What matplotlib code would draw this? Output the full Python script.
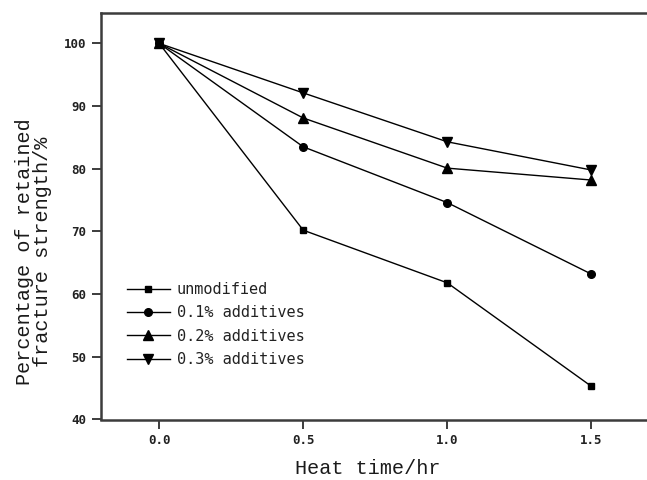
"""Retained fracture strength vs heat time for different additive levels."""

import matplotlib
matplotlib.use("Agg")
import matplotlib.pyplot as plt

heat_time = [0.0, 0.5, 1.0, 1.5]
unmodified = [100.0, 70.2, 61.8, 45.3]
additive_01 = [100.0, 83.5, 74.6, 63.2]
additive_02 = [100.0, 88.1, 80.1, 78.2]
additive_03 = [100.0, 92.1, 84.3, 79.8]
series_labels = ["unmodified", "0.1% additives", "0.2% additives", "0.3% additives"]
x_ticks = [0.0, 0.5, 1.0, 1.5]
y_ticks = [40, 50, 60, 70, 80, 90, 100]

MARKERS = [("s", 4.0), ("o", 5.5), ("^", 6.5), ("v", 6.5)]
MONO = "DejaVu Sans Mono"
SERIF_MONO = "Liberation Mono"
SPINE = "#3c3c3c"

fig = plt.figure(figsize=(6.47, 4.80), dpi=100)
ax = fig.add_axes([101 / 647, 1 - 419.5 / 480, 1.0 - 101 / 647 + 0.003,
                   (419.5 - 13.3) / 480])

for values, label, (m, ms) in zip(
    [unmodified, additive_01, additive_02, additive_03], series_labels, MARKERS
):
    ax.plot(heat_time, values, color="black", lw=1.0, marker=m, ms=ms,
            mfc="black", mec="black", label=label)

ax.set_xlim(-0.202, 1.70)
ax.set_ylim(40, 104.8)
ax.set_xticks(x_ticks)
ax.set_xticklabels([f"{v:.1f}" for v in x_ticks])
ax.set_yticks(y_ticks)
ax.set_yticklabels([str(v) for v in y_ticks])

for side in ("left", "bottom", "top", "right"):
    ax.spines[side].set_linewidth(1.8)
    ax.spines[side].set_color(SPINE)

ax.tick_params(direction="out", length=6.5, width=1.4, color=SPINE, pad=4,
               labelsize=9)
for lbl in ax.get_xticklabels() + ax.get_yticklabels():
    lbl.set_family(MONO)
    lbl.set_fontweight("bold")
    lbl.set_color("#222222")

leg = ax.legend(
    loc="upper left", bbox_to_anchor=(26 / 546, (419.5 - 282) / 406.2),
    frameon=False, handlelength=2.8, handletextpad=0.45, labelspacing=0.55,
    borderaxespad=0, borderpad=0,
    prop={"family": MONO, "size": 11},
)
for t in leg.get_texts():
    t.set_color("#222222")

fig.text(368 / 647, 1 - 469 / 480, "Heat time/hr", family=SERIF_MONO,
         fontsize=14.5, ha="center", va="center", color="#1a1a1a")
fig.text(33.5 / 647, 1 - 252 / 480,
         "Percentage of retained\nfracture strength/%",
         family=SERIF_MONO, fontsize=14.5, rotation=90,
         ha="center", va="center", multialignment="center", linespacing=0.92,
         color="#1a1a1a")

fig.savefig("out.png", dpi=100)
